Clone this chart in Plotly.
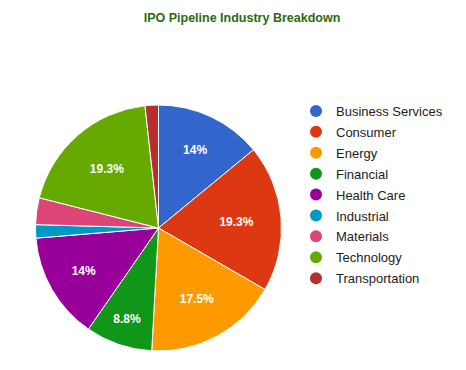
import plotly.graph_objects as go

categories = ["Business Services", "Consumer", "Energy", "Financial", "Health Care",
              "Industrial", "Materials", "Technology", "Transportation"]
counts = [8, 11, 10, 5, 8, 1, 2, 11, 1]
colors = ["#3366cc", "#dc3912", "#ff9900", "#109618", "#990099",
          "#0099c6", "#dd4477", "#66aa00", "#b82e2e"]
title_text = "IPO Pipeline Industry Breakdown"

total = sum(counts)
labels_text = []
for v in counts:
    p = v / total * 100
    labels_text.append(f"<b>{round(p, 1):g}%</b>" if p >= 5 else "")

# page body has an 8px margin; the figure fills the rest of the window
OFF = 8
W, H = 466 - OFF, 370 - OFF
cx, cy, r = 158.5 - OFF, 228 - OFF, 123

fig = go.Figure()
fig.add_trace(go.Pie(
    labels=categories, values=counts, text=labels_text,
    textinfo="text", textposition="inside", insidetextorientation="horizontal",
    sort=False, direction="clockwise", rotation=0,
    marker=dict(colors=colors, line=dict(color="white", width=1)),
    textfont=dict(color="white", size=12, family="Arial, Liberation Sans"),
    showlegend=False, hoverinfo="label+percent",
    domain=dict(x=[(cx - r) / W, (cx + r) / W], y=[(H - cy - r) / H, (H - cy + r) / H]),
))
for i, (name, col) in enumerate(zip(categories, colors)):
    fig.add_trace(go.Scatter(x=[None], y=[None], mode="markers", name=name,
                             legendgroup=f"g{i}",
                             marker=dict(color=col, size=13, symbol="circle")))

fig.update_layout(
    width=W, height=H, margin=dict(l=0, r=0, t=0, b=0),
    paper_bgcolor="white", plot_bgcolor="white",
    xaxis=dict(visible=False), yaxis=dict(visible=False),
    title=dict(text="<b>" + title_text + "</b>", x=(242 - OFF) / W, xanchor="center",
               y=1 - (18 - OFF) / H, yanchor="middle",
               font=dict(size=12.5, color="#2b6a12", family="Arial, Liberation Sans")),
    legend=dict(x=(296 - OFF) / W, y=1 - (96 - OFF) / H, xanchor="left", yanchor="top",
                font=dict(size=13, color="#222222", family="Arial, Liberation Sans"),
                tracegroupgap=1, itemsizing="constant", bgcolor="rgba(0,0,0,0)"),
)
fig.write_html("out.html")
